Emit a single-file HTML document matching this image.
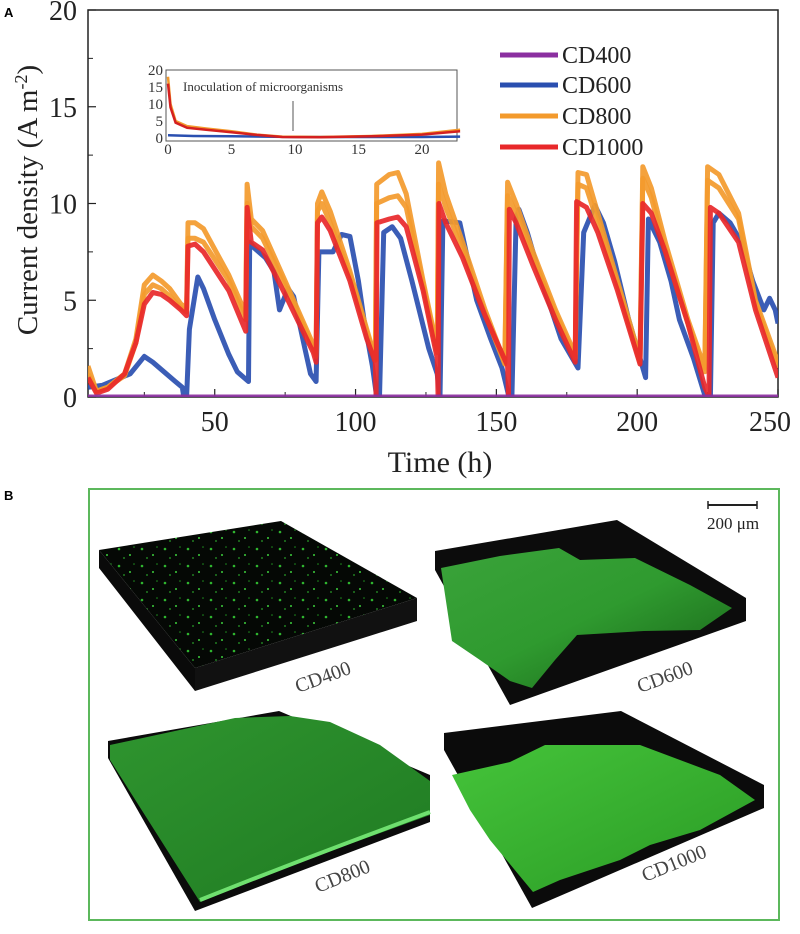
<!DOCTYPE html>
<html><head><meta charset="utf-8">
<style>
html,body{margin:0;padding:0;background:#fff;}
body{width:800px;height:929px;overflow:hidden;font-family:"Liberation Serif",serif;}
svg text{font-family:"Liberation Serif",serif;}
</style></head>
<body>
<svg id="chart" width="800" height="929" viewBox="0 0 800 929" xmlns="http://www.w3.org/2000/svg">
<defs>
<pattern id="specks" width="23" height="17" patternUnits="userSpaceOnUse">
<rect width="23" height="17" fill="#050805"/>
<circle cx="4" cy="5" r="1.3" fill="#2fb52f"/><circle cx="15" cy="11" r="1" fill="#3ccf3c"/><circle cx="19" cy="3" r="0.8" fill="#1e8f1e"/><circle cx="9" cy="14" r="0.9" fill="#29a029"/>
</pattern>
<linearGradient id="g600" x1="0" y1="0" x2="1" y2="1"><stop offset="0" stop-color="#3aa33a"/><stop offset="0.5" stop-color="#2f9a2f"/><stop offset="1" stop-color="#175f17"/></linearGradient>
<linearGradient id="g800" x1="0" y1="0" x2="1" y2="1"><stop offset="0" stop-color="#2f952f"/><stop offset="1" stop-color="#1f7a22"/></linearGradient>
<linearGradient id="g1000" x1="0" y1="0" x2="1" y2="1"><stop offset="0" stop-color="#45c43a"/><stop offset="1" stop-color="#2a9a25"/></linearGradient>
</defs>
<text x="4" y="17" font-weight="bold" font-size="13" style="font-family:'Liberation Sans',sans-serif">A</text>
<text x="4" y="500" font-weight="bold" font-size="13" style="font-family:'Liberation Sans',sans-serif">B</text>
<g id="axes"></g>
<g id="series"></g>
<g id="inset"></g>
<g id="legend"></g>

<!-- Panel B -->
<rect x="89" y="489" width="690" height="431" fill="none" stroke="#5cb85c" stroke-width="2"/>
<g>
<line x1="708" y1="505" x2="757" y2="505" stroke="#222" stroke-width="2"/>
<line x1="708" y1="501" x2="708" y2="509" stroke="#222" stroke-width="1.5"/>
<line x1="757" y1="501" x2="757" y2="509" stroke="#222" stroke-width="1.5"/>
<text x="733" y="529" font-size="17" text-anchor="middle" fill="#222">200 μm</text>
</g>
<g>
<polygon points="99,550 195,668 195,691 99,568" fill="#0a0a0a"/>
<polygon points="195,668 417,598 417,621 195,691" fill="#111"/>
<polygon points="99,550 281,521 417,598 195,668" fill="url(#specks)"/>
<text x="0" y="0" font-size="20" fill="#444" transform="translate(298,693) rotate(-20)">CD400</text>
</g>
<g>
<polygon points="435,551 617,520 746,598 746,621 510,705 435,570" fill="#0c0c0c"/>
<polygon points="441,568 500,556 559,548 580,560 635,558 690,585 732,608 700,630 644,631 577,635 555,660 532,688 510,681 480,660 452,641" fill="url(#g600)"/>
<text x="0" y="0" font-size="20" fill="#444" transform="translate(640,693) rotate(-20)">CD600</text>
</g>
<g>
<polygon points="108,741 279,711 430,775 430,822 195,911 108,758" fill="#0b0b0b"/>
<polygon points="110,745 235,718 290,716 330,722 380,745 430,781 430,815 300,862 200,902 110,760" fill="url(#g800)"/>
<path d="M200,900 Q300,860 430,812" stroke="#6fe06f" stroke-width="4" fill="none"/>
<text x="0" y="0" font-size="20" fill="#444" transform="translate(318,893) rotate(-22)">CD800</text>
</g>
<g>
<polygon points="444,733 621,711 764,785 764,808 532,908 444,750" fill="#0b0b0b"/>
<polygon points="452,775 510,762 545,745 600,745 640,745 720,775 755,800 700,830 650,845 620,860 560,880 533,892 490,840 470,810" fill="url(#g1000)"/>
<text x="0" y="0" font-size="20" fill="#444" transform="translate(645,882) rotate(-22)">CD1000</text>
</g>
</svg>
<script>
// ---- main chart data ----
var xTicks = [50, 100, 150, 200, 250];
var yTicks = [0, 5, 10, 15, 20];
var seriesNames = ["CD400", "CD600", "CD800", "CD1000"];
var seriesColors = ["#8b2fa0", "#2a4fb0", "#f39a2c", "#e8282a"];
var cd400 = [[5,0],[250,0]];
var cd600 = [[5,0.5],[10,0.6],[15,0.9],[20,1.2],[25,2.1],[28,1.8],[32,1.3],[36,0.8],[38.5,0.5],[39,0],[40,0],[41,3.5],[44,6.2],[46,5.6],[50,4.0],[55,2.2],[58,1.3],[62,0.8],[62.4,8.0],[64,7.7],[68,7.2],[71,6.5],[73,4.5],[76,5.6],[78,5.2],[82,2.5],[84,1.2],[86,0.8],[87,7.5],[92,7.5],[95,8.4],[98,8.3],[101,6.0],[103,4.0],[106,1.6],[107.5,0],[108.5,0],[110,8.5],[113,8.8],[116,8.2],[120,6.0],[126,2.5],[129,1.2],[130,0],[131,9.1],[137,9.0],[140,7.0],[143,5.0],[148,3.0],[152,1.5],[154.5,0],[155.5,0],[157,9.2],[158,9.7],[161,8.5],[165,6.5],[173,3.0],[179,1.5],[181,8.5],[185,9.9],[188,9.0],[192,7.0],[197,4.0],[201,2.0],[203,1.0],[204,9.2],[208,8.0],[212,6.0],[215,4.0],[220,2.0],[224,0.1],[226,0],[227,9.0],[229,9.5],[233,9.0],[237,8.0],[241,6.0],[245,4.5],[247,5.1],[249,4.5],[250,3.8]];
var cd800 = [[5,1.6],[8,0.3],[12,0.5],[18,1.2],[22,3],[25,5.8],[28,6.3],[31,6.0],[34,5.6],[38,4.8],[40,4.6],[40.5,9.0],[43,9.0],[46,8.7],[55,6.3],[61,4.3],[61.5,11.0],[63,9.2],[67,8.6],[75,6.0],[85,2.7],[86,2.3],[86.5,10.0],[88,10.6],[91,9.6],[98,6.5],[104,3.5],[107,2.0],[107.5,11.0],[112,11.5],[115,11.6],[118,10.5],[124,6.0],[129,2.5],[129.5,12.1],[132,10.5],[138,8.0],[146,4.5],[153,1.8],[154,11.1],[157,10.0],[163,7.5],[171,4.5],[178,2.2],[179,11.6],[182,11.5],[186,9.5],[193,6.0],[201,2.0],[202,11.9],[205,10.8],[210,8.0],[218,4.0],[224,1.5],[225,11.9],[229,11.5],[236,9.5],[242,5.0],[250,1.8]];
var cd800b = [[5,1.2],[8,0.3],[12,0.5],[18,1.1],[22,2.8],[25,5.3],[28,5.8],[31,5.6],[34,5.2],[38,4.6],[40,4.4],[40.5,8.2],[43,8.2],[46,8.0],[55,6.0],[61,4.0],[61.5,10.0],[63,8.8],[67,8.2],[75,5.8],[85,2.5],[86,2.1],[86.5,9.6],[88,10.0],[91,9.0],[98,6.3],[104,3.3],[107,1.9],[107.5,10.0],[112,10.3],[115,10.4],[118,9.8],[124,5.8],[129,2.3],[129.5,11.0],[132,9.8],[138,7.6],[146,4.3],[153,1.7],[154,10.4],[157,9.5],[163,7.2],[171,4.3],[178,2.0],[179,11.0],[182,10.8],[186,9.0],[193,5.8],[201,1.8],[202,11.3],[205,10.3],[210,7.6],[218,3.8],[224,1.3],[225,11.2],[229,10.8],[236,9.2],[242,4.8],[250,1.5]];
var cd1000 = [[5,1.0],[8,0.2],[12,0.4],[18,1.2],[22,2.8],[25,4.8],[28,5.4],[31,5.3],[34,5.0],[38,4.5],[40,4.2],[40.5,7.8],[43,7.9],[46,7.5],[55,5.5],[61,3.4],[61.5,9.8],[63,8.0],[67,7.6],[75,5.3],[85,2.3],[86,1.8],[86.5,9.0],[88,9.3],[91,8.6],[98,6.0],[104,3.0],[107,1.8],[107.3,0],[107.6,9.0],[112,9.2],[115,9.3],[118,8.8],[124,5.5],[129,2.0],[129.3,0],[129.6,10.0],[132,9.0],[138,7.2],[146,4.2],[154,1.6],[154.3,0],[154.6,9.7],[157,9.0],[163,6.8],[171,4.0],[178,1.8],[178.5,10.1],[182,9.8],[186,8.5],[193,5.5],[201,1.7],[202,10.0],[205,9.5],[210,7.5],[218,3.8],[224,0.5],[225.5,0],[226,9.8],[229,9.5],[236,8.0],[242,4.5],[250,1.0]];
// ---- inset data ----
var insetXTicks = [0, 5, 10, 15, 20];
var insetYTicks = [0, 5, 10, 15, 20];
var insetBlue = [[0,0.8],[2,0.6],[5,0.5],[10,0.3],[15,0.3],[20,0.3],[23,0.4]];
var insetOrange = [[0,18],[0.2,10],[0.6,5],[1.5,3.5],[3,2.8],[5,2.0],[7,1.0],[9,0.4],[12,0.3],[16,0.6],[20,1.2],[23,2.4]];
var insetRed = [[0,16],[0.2,9],[0.6,4.5],[1.5,3.0],[3,2.4],[5,1.7],[7,0.9],[9,0.3],[12,0.2],[16,0.5],[20,1.0],[23,2.0]];

var NS = "http://www.w3.org/2000/svg";
function xs(t){ return 88 + (t - 5) * (778 - 88) / 245; }
function ys(v){ return 397 - v * (397 - 10) / 20; }
function ixs(t){ return 168 + t * 12.7; }
function iys(v){ return 138 - v * 3.4; }
function mk(tag, attrs, parent){ var e = document.createElementNS(NS, tag); for (var k in attrs) e.setAttribute(k, attrs[k]); parent.appendChild(e); return e; }
function pathD(data, fx, fy){ return data.map(function(p, i){ return (i ? "L" : "M") + fx(p[0]).toFixed(1) + "," + fy(p[1]).toFixed(1); }).join(""); }

var axes = document.getElementById("axes");
var frame = mk("rect", {x: 88, y: 10, width: 690, height: 387, fill: "none", stroke: "#222", "stroke-width": 1.5}, axes);


xTicks.forEach(function(t){
  var tk = mk("line", {x1: xs(t), x2: xs(t), y1: 397, y2: 389, stroke: "#222", "stroke-width": 1.2}, axes);
  
  
  var mt = mk("line", {x1: xs(t - 25), x2: xs(t - 25), y1: 397, y2: 392, stroke: "#222", "stroke-width": 1}, axes);
  
  
  var lb = mk("text", {x: xs(t) - (t === 250 ? 8 : 0), y: 431, "font-size": 28, "text-anchor": "middle", fill: "#222"}, axes);
  lb.textContent = t;
  
  
});
yTicks.forEach(function(v){
  var tk = mk("line", {x1: 88, x2: 96, y1: ys(v), y2: ys(v), stroke: "#222", "stroke-width": 1.2}, axes);
  
  
  if (v < 20) {
    var mt = mk("line", {x1: 88, x2: 93, y1: ys(v + 2.5), y2: ys(v + 2.5), stroke: "#222", "stroke-width": 1}, axes);
    
    
  }
  var lb = mk("text", {x: 77, y: ys(v) + 10, "font-size": 28, "text-anchor": "end", fill: "#222"}, axes);
  lb.textContent = v;
  
  
});
var xt = mk("text", {x: 440, y: 472, "font-size": 30, "text-anchor": "middle", fill: "#222"}, axes);
xt.textContent = "Time (h)";


var yt = mk("text", {x: 0, y: 0, "font-size": 29, "text-anchor": "middle", fill: "#222", transform: "translate(37,200) rotate(-90)"}, axes);
yt.innerHTML = 'Current density (A m<tspan dy="-10" font-size="18">-2</tspan><tspan dy="10">)</tspan>';



var sg = document.getElementById("series");
var clipR = mk("clipPath", {id: "plotclip"}, sg);
mk("rect", {x: 88, y: 10, width: 690, height: 387}, clipR);
var drawList = [[cd600, seriesColors[1], 'line-cd600'], [cd800, seriesColors[2], 'line-cd800'], [cd800b, seriesColors[2], 'line-cd800-replicate'], [cd1000, seriesColors[3], 'line-cd1000'], [cd400, seriesColors[0], 'line-cd400']];
drawList.forEach(function(s){
  var p = mk("path", {d: pathD(s[0], xs, ys), fill: "none", stroke: s[1], "stroke-width": 5, "stroke-linejoin": "round", "clip-path": "url(#plotclip)", opacity: 0.92}, sg);
  
  
});

// inset
var ig = document.getElementById("inset");
var ib = mk("rect", {x: 166, y: 70, width: 291, height: 71, fill: "#fff", stroke: "#555", "stroke-width": 1}, ig);


insetYTicks.forEach(function(v){
  var lb = mk("text", {x: 163, y: iys(v) + 5, "font-size": 15, "text-anchor": "end", fill: "#333"}, ig);
  lb.textContent = v;
  
  
});
insetXTicks.forEach(function(t){
  var lb = mk("text", {x: ixs(t), y: 154, "font-size": 15, "text-anchor": "middle", fill: "#333"}, ig);
  lb.textContent = t;
  
  
});
[[insetBlue, seriesColors[1], 'inset-line-cd600'], [insetOrange, seriesColors[2], 'inset-line-cd800'], [insetRed, "#d42020", 'inset-line-cd1000']].forEach(function(s){
  var p = mk("path", {d: pathD(s[0], ixs, iys), fill: "none", stroke: s[1], "stroke-width": 2.5}, ig);
  
  
});
var an = mk("text", {x: 183, y: 91, "font-size": 13, fill: "#333"}, ig);
an.textContent = "Inoculation of microorganisms";


var ar = mk("line", {x1: 293, y1: 101, x2: 293, y2: 131, stroke: "#555", "stroke-width": 1}, ig);



// legend
var lg = document.getElementById("legend");
var legY = [55, 85, 116, 147];
seriesNames.forEach(function(n, i){
  var l = mk("line", {x1: 500, x2: 558, y1: legY[i], y2: legY[i], stroke: seriesColors[i], "stroke-width": 5}, lg);
  
  
  var t = mk("text", {x: 562, y: legY[i] + 8, "font-size": 24, fill: "#222"}, lg);
  t.textContent = n;
  
  
});
</script>
</body></html>
